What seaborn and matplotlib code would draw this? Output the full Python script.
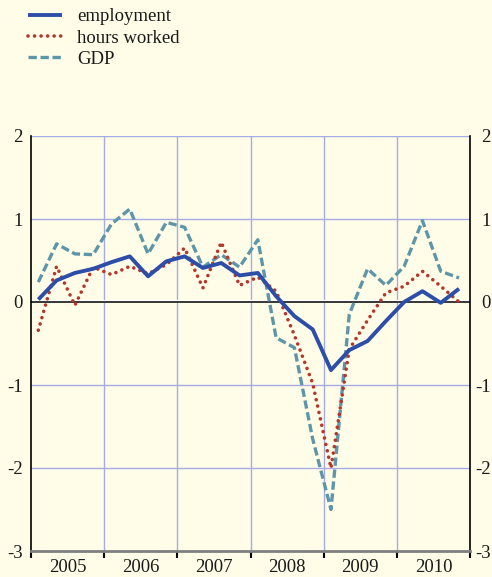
import numpy as np
import pandas as pd
import matplotlib
matplotlib.use("Agg")
import matplotlib.pyplot as plt
import matplotlib.transforms as mtrans
import seaborn as sns

# ---- data (quarterly, 2005Q1 .. 2010Q4) ----
years = [2005, 2006, 2007, 2008, 2009, 2010]
quarters = [f"{y}Q{q}" for y in years for q in range(1, 5)]
employment = [0.03, 0.26, 0.35, 0.40, 0.48, 0.55, 0.31, 0.49, 0.55, 0.41, 0.47, 0.32,
              0.35, 0.07, -0.17, -0.33, -0.82, -0.58, -0.47, -0.23, 0.00, 0.13, -0.01, 0.16]
hours_worked = [-0.34, 0.43, -0.04, 0.42, 0.33, 0.43, 0.34, 0.45, 0.65, 0.17, 0.72, 0.20,
                0.30, 0.13, -0.40, -0.98, -2.00, -0.57, -0.22, 0.11, 0.19, 0.37, 0.19, 0.00]
gdp = [0.24, 0.70, 0.58, 0.57, 0.94, 1.12, 0.58, 0.96, 0.90, 0.42, 0.57, 0.42,
       0.75, -0.43, -0.55, -1.65, -2.50, -0.15, 0.40, 0.20, 0.43, 0.98, 0.37, 0.29]
yticks = [-3, -2, -1, 0, 1, 2]

# quarter position in fractional years
xpos = np.array([int(q[:4]) + (int(q[-1]) - 1) / 4 + 0.1 for q in quarters])
df = pd.DataFrame({"x": xpos, "employment": employment,
                   "hours worked": hours_worked, "GDP": gdp})

bg = "#fffde8"
grid_c = "#a6abe6"
c_emp = "#2d4ea8"
c_hours = "#b5362b"
c_gdp = "#5e96a9"
txt_c = "#1a1a1a"
fs = 13.5

sns.set_theme(style="white")
plt.rcParams["font.family"] = ["Liberation Serif", "DejaVu Serif"]

fig = plt.figure(figsize=(4.92, 5.77), dpi=100, facecolor=bg)
ax = fig.add_axes([31 / 492, 1 - 551 / 577, (470 - 31) / 492, (551 - 136) / 577])
ax.set_facecolor(bg)

ax.set_xlim(2005, 2011)
ax.set_ylim(-3, 2)

# grid
for v in [-2, -1, 1, 2]:
    ax.axhline(v, color=grid_c, lw=1.0, zorder=1)
for y in years[1:]:
    ax.axvline(y, color=grid_c, lw=1.0, zorder=1)

# zero line
ax.axhline(0.015, color="white", lw=2.2, zorder=2)
ax.axhline(0, color="black", lw=1.1, zorder=2)

sns.lineplot(data=df, x="x", y="GDP", ax=ax, color=c_gdp, lw=2.4,
             label="GDP", zorder=3, linestyle=(0, (2.5, 1.1)))
ax.lines[-1].set_dash_capstyle("butt")
sns.lineplot(data=df, x="x", y="hours worked", ax=ax, color=c_hours, lw=2.6,
             label="hours worked", zorder=4, linestyle=(0, (0.01, 1.8)))
ax.lines[-1].set_dash_capstyle("round")
sns.lineplot(data=df, x="x", y="employment", ax=ax, color=c_emp, lw=2.8,
             label="employment", zorder=5)
ax.lines[-1].set_solid_capstyle("butt")

ax.set_xlabel("")
ax.set_ylabel("")

# spines
for s in ["left", "right"]:
    ax.spines[s].set_visible(True)
    ax.spines[s].set_color("black")
    ax.spines[s].set_linewidth(1.2)
ax.spines["top"].set_visible(False)
ax.spines["bottom"].set_color("#7f7f7f")
ax.spines["bottom"].set_linewidth(2.0)

# y ticks both sides
ax.set_yticks(yticks)
ax.set_yticklabels([str(v) for v in yticks])
ax.tick_params(axis="y", which="both", length=0, labelsize=fs, colors=txt_c,
               left=True, right=True, labelleft=True, labelright=True, pad=6)
# right labels right-aligned close to the figure edge
off = mtrans.ScaledTranslation(20.5 / 100, 0, fig.dpi_scale_trans)
for tk in ax.yaxis.get_major_ticks():
    tk.label2.set_horizontalalignment("right")
    tk.label2.set_transform(ax.get_yaxis_transform(which="tick2") + off)

# x ticks: major at year boundaries (no label), minor at year centres (label)
ax.set_xticks(years + [2011])
ax.set_xticklabels([""] * (len(years) + 1))
ax.set_xticks([y + 0.5 for y in years], minor=True)
ax.set_xticklabels([str(y) for y in years], minor=True)
ax.tick_params(axis="x", which="major", length=5, width=1.5, color="black",
               direction="out", bottom=True)
ax.tick_params(axis="x", which="minor", length=0, labelsize=fs, pad=6, colors=txt_c)

# legend
h, l = ax.get_legend_handles_labels()
order = [l.index("employment"), l.index("hours worked"), l.index("GDP")]
leg = ax.legend([h[i] for i in order], [l[i] for i in order], loc="upper left",
                bbox_to_anchor=(28 / 492, 1 - 8 / 577), bbox_transform=fig.transFigure,
                frameon=False, fontsize=fs, handlelength=1.8, handletextpad=0.8,
                labelspacing=0.23, borderaxespad=0, borderpad=0)
for t in leg.get_texts():
    t.set_color(txt_c)

fig.savefig("out.png", dpi=100, facecolor=bg)
